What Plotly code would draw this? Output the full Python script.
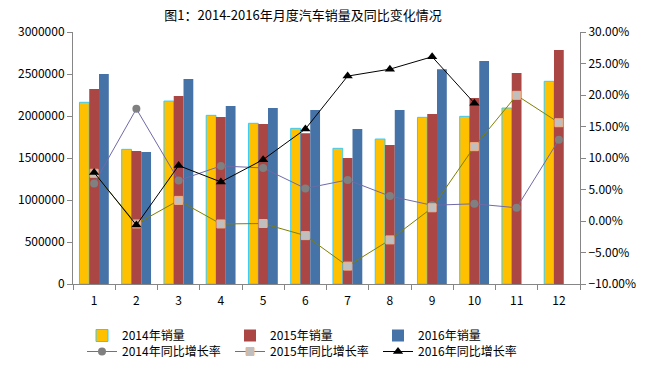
import plotly.graph_objects as go

months = [str(i) for i in range(1, 13)]
sales_2014 = [2163000, 1603000, 2178000, 2008000, 1913000, 1853000, 1615000, 1726000, 1984000, 1996000, 2095000, 2413000]
sales_2015 = [2321000, 1583000, 2238000, 1988000, 1905000, 1794000, 1500000, 1655000, 2024000, 2214000, 2512000, 2786000]
sales_2016 = [2500000, 1571000, 2440000, 2119000, 2095000, 2071000, 1845000, 2071000, 2556000, 2655000, None, None]
growth_2014 = [5.96, 17.8, 6.43, 8.74, 8.42, 5.17, 6.52, 3.95, 2.5, 2.73, 2.1, 12.9]
growth_2015 = [7.58, -0.47, 3.27, -0.47, -0.4, -2.32, -7.16, -3.0, 2.1, 11.8, 19.95, 15.6]
growth_2016 = [7.69, -0.65, 8.8, 6.2, 9.74, 14.6, 23.0, 24.1, 26.07, 18.7, None, None]

FONT = "Noto Sans CJK SC"
AXIS = "#868686"

fig = go.Figure()
fig.add_trace(go.Bar(x=months, y=sales_2014, name="2014年销量", legend="legend",
                     marker=dict(color="#FFC000", line=dict(color="#33CCFF", width=1))))
fig.add_trace(go.Bar(x=months, y=sales_2015, name="2015年销量", legend="legend",
                     marker=dict(color="#AA4643", line=dict(width=0))))
fig.add_trace(go.Bar(x=months, y=sales_2016, name="2016年销量", legend="legend",
                     marker=dict(color="#4572A7", line=dict(width=0))))
fig.add_trace(go.Scatter(x=months, y=growth_2014, name="2014年同比增长率", yaxis="y2",
                         legend="legend2", mode="lines+markers",
                         line=dict(color="#6F6AA8", width=1),
                         marker=dict(symbol="circle", size=8, color="#808080")))
fig.add_trace(go.Scatter(x=months, y=growth_2015, name="2015年同比增长率", yaxis="y2",
                         legend="legend2", mode="lines+markers",
                         line=dict(color="#808000", width=1),
                         marker=dict(symbol="square", size=8, color="#BFBFBF",
                                     line=dict(color="#F4B183", width=1))))
fig.add_trace(go.Scatter(x=months, y=growth_2016, name="2016年同比增长率", yaxis="y2",
                         legend="legend2", mode="lines+markers",
                         line=dict(color="#000000", width=1),
                         marker=dict(symbol="triangle-up", size=9, color="#000000")))

legend_common = dict(orientation="h", xref="container", yref="container",
                     xanchor="left", yanchor="top",
                     entrywidth=103, entrywidthmode="pixels",
                     font=dict(family=FONT, size=12, color="black"),
                     bgcolor="rgba(0,0,0,0)", borderwidth=0, traceorder="normal")

fig.update_layout(
    template="none",
    width=650, height=373,
    paper_bgcolor="white", plot_bgcolor="white",
    font=dict(family=FONT, size=12, color="black"),
    margin=dict(l=73, r=70, t=32, b=89, pad=0),
    barmode="group", bargap=0.306, bargroupgap=0,
    title=dict(text="图1：2014-2016年月度汽车销量及同比变化情况",
               x=303/650, xanchor="center", xref="container",
               y=1-15/373, yanchor="middle", yref="container",
               font=dict(family=FONT, size=13, color="black")),
    xaxis=dict(type="category", range=[-0.5, 11.5], autorange=False,
               showline=True, linecolor=AXIS, linewidth=1,
               ticks="outside", tickson="boundaries", ticklen=5, tickcolor=AXIS,
               ticklabelstandoff=6,
               showgrid=False, zeroline=False, automargin=False, tickfont=dict(size=12)),
    yaxis=dict(range=[0, 3000000], dtick=500000, tickformat="d",
               showline=True, linecolor=AXIS, linewidth=1,
               ticks="outside", ticklen=5, tickcolor=AXIS,
               showgrid=False, zeroline=False, automargin=False, tickfont=dict(size=12)),
    yaxis2=dict(range=[-10, 30], dtick=5, tickformat=".2f", ticksuffix="%",
                overlaying="y", side="right",
                showline=True, linecolor=AXIS, linewidth=1,
                ticks="outside", ticklen=5, tickcolor=AXIS,
                showgrid=False, zeroline=False, automargin=False, tickfont=dict(size=12)),
    legend=dict(legend_common, x=82/650, y=1-321/373),
    legend2=dict(legend_common, x=82/650, y=1-337/373),
    showlegend=True,
)

fig.write_html("out.html", config={"displayModeBar": False},
               post_script="document.body.style.margin='0';document.body.style.overflow='hidden';")
